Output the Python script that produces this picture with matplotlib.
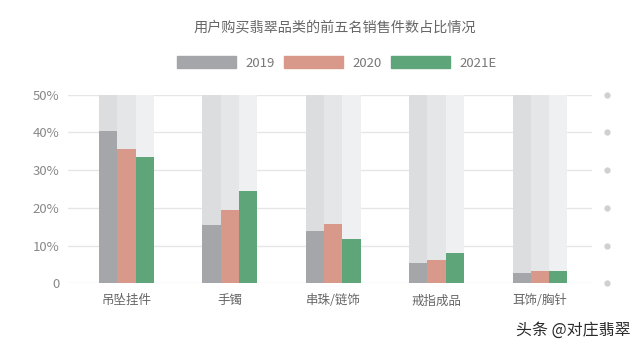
import matplotlib
matplotlib.use("Agg")
import numpy as np
from matplotlib import pyplot as plt
from matplotlib import transforms
from matplotlib.patches import Patch

plt.rcParams['font.family'] = ['Noto Sans CJK SC', 'DejaVu Sans']

categories = ["吊坠挂件", "手镯", "串珠/链饰", "戒指成品", "耳饰/胸针"]
series_names = ["2019", "2020", "2021E"]
v2019 = [40.3, 15.5, 13.9, 5.4, 2.8]
v2020 = [35.7, 19.5, 15.8, 6.2, 3.3]
v2021 = [33.4, 24.4, 11.8, 8.0, 3.3]
yticks = [0, 10, 20, 30, 40, 50]
ylabels = ["0", "10%", "20%", "30%", "40%", "50%"]

colors = ["#a5a6aa", "#d9998a", "#5fa57a"]
bg_colors = ["#dcdddf", "#e5e6e8", "#eff0f2"]

fig = plt.figure(figsize=(6.4, 3.5), dpi=100)
ax = fig.add_axes([0.106, 0.1906, 0.819, 0.5389])

x = np.arange(len(categories))
w = 0.177
for i, vals in enumerate([v2019, v2020, v2021]):
    off = (i - 1) * w
    ax.bar(x + off, [max(yticks)] * len(x), w, color=bg_colors[i], zorder=2, linewidth=0)
    ax.bar(x + off, vals, w, color=colors[i], zorder=3, linewidth=0)

ax.set_xlim(-0.566, 4.503)
ax.set_ylim(0, 50)
ax.set_yticks(yticks)
ax.set_yticklabels(ylabels)
ax.set_xticks(x)
ax.set_xticklabels(categories)
ax.yaxis.grid(True, color="#e6e6e6", linewidth=1, zorder=1)
ax.set_axisbelow(True)
for s in ax.spines.values():
    s.set_visible(False)
ax.tick_params(axis="y", length=0, labelsize=9.5, labelcolor="#888888", pad=6)
ax.tick_params(axis="x", length=0, labelsize=9, labelcolor="#666666", pad=8)

# dots on the right side at each gridline
tr = transforms.blended_transform_factory(ax.transAxes, ax.transData)
ax.plot([1.028] * len(yticks), yticks, "o", color="#d0d0d0", markersize=3.5,
        transform=tr, clip_on=False, linestyle="none")

fig.text(0.523, 0.922, "用户购买翡翠品类的前五名销售件数占比情况", ha="center", va="center",
         fontsize=10.2, color="#666666")

handles = [Patch(color=c, label=n) for c, n in zip(colors, series_names)]
leg = fig.legend(handles=handles, loc="center", bbox_to_anchor=(0.526, 0.82), ncol=3,
                 frameon=False, fontsize=9.5, handlelength=4.5, handleheight=1.0,
                 handletextpad=0.7, columnspacing=0.7)
for t in leg.get_texts():
    t.set_color("#777777")

fig.text(0.985, 0.057, "头条 @对庄翡翠", ha="right", va="center", fontsize=11.5,
         color="#2a2a2a")

fig.savefig("out.png", dpi=100)
